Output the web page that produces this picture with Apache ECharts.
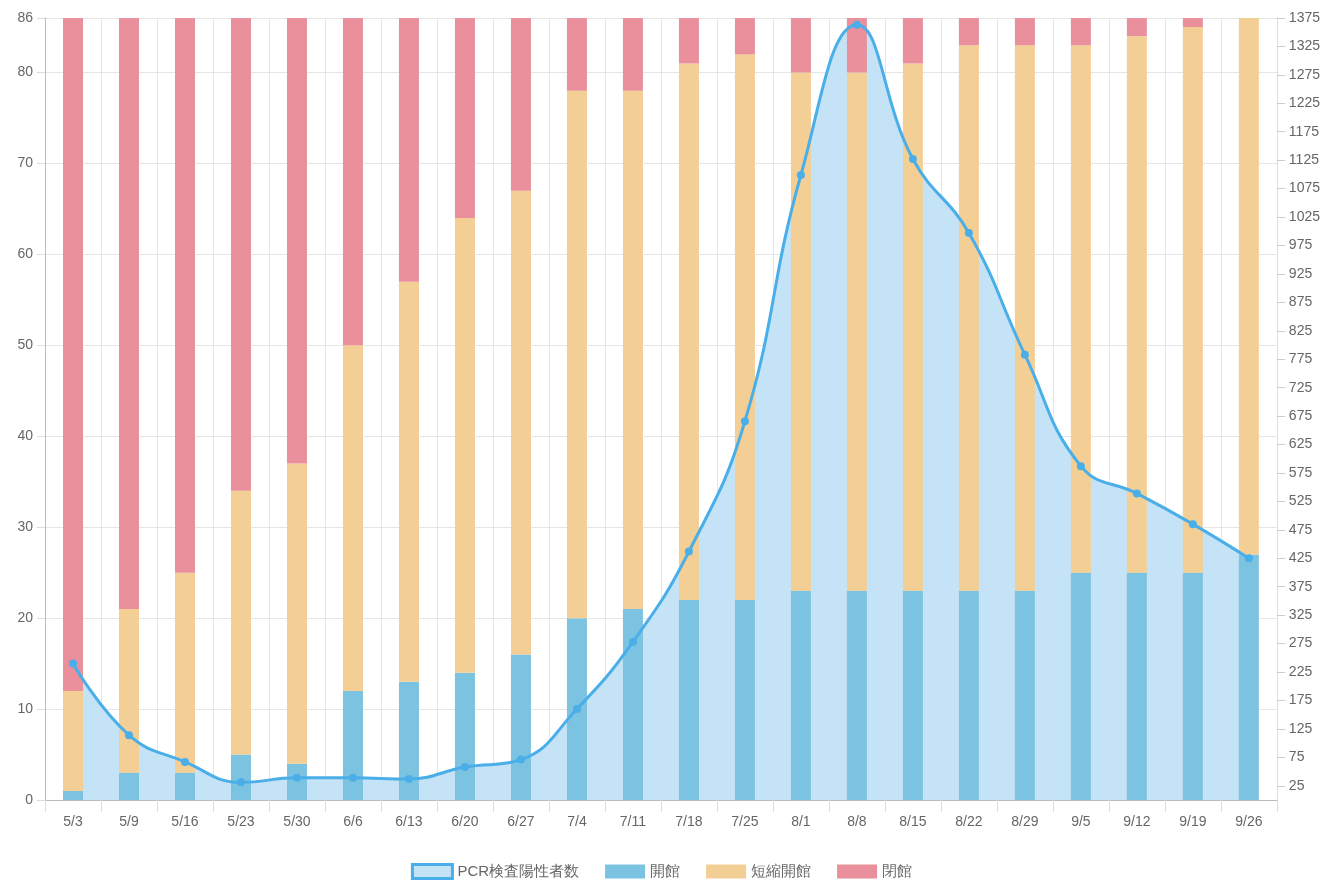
<!DOCTYPE html>
<html><head><meta charset="utf-8">
<script src="https://cdn.jsdelivr.net/npm/echarts@6/dist/echarts.min.js"></script>
<style>html,body{margin:0;padding:0;background:#fff}#c{width:1323px;height:880px}</style>
</head><body><div id="c"></div>
<script>
const categories = ['5/3','5/9','5/16','5/23','5/30','6/6','6/13','6/20','6/27','7/4','7/11','7/18','7/25','8/1','8/8','8/15','8/22','8/29','9/5','9/12','9/19','9/26'];
const openFull = [1,3,3,5,4,12,13,14,16,20,21,22,22,23,23,23,23,23,25,25,25,27];
const openShort = [11,18,22,29,33,38,44,50,51,58,57,59,60,57,57,58,60,60,58,59,60,59];
const closed = [74,65,61,52,49,36,29,22,19,8,8,5,4,6,6,5,3,3,3,2,1,0];
const pcrPositive = [240,114,67,31,39,39,37,58,71,160,278,437,666,1099,1363,1127,997,783,587,539,485,425];
const leftTicks = [0,10,20,30,40,50,60,70,80,86];
const rightTicks = [25,75,125,175,225,275,325,375,425,475,525,575,625,675,725,775,825,875,925,975,1025,1075,1125,1175,1225,1275,1325,1375];

const FONT = '"Liberation Sans", Arial, sans-serif';
const TXT = '#666';
const chart = echarts.init(document.getElementById('c'));
chart.setOption({
  animation:false,
  textStyle:{fontFamily:FONT},
  grid:{left:45,right:46,top:18,bottom:80,containLabel:false},
  legend:{
    top:858, left:'center', itemWidth:40, itemHeight:14, itemGap:26,
    textStyle:{color:TXT,fontSize:15,fontFamily:FONT},
    data:[
      {name:'PCR検査陽性者数', icon:'rect', itemStyle:{color:'#c5e3f6',borderColor:'#4aaee8',borderWidth:3}},
      {name:'開館', icon:'rect'},
      {name:'短縮開館', icon:'rect'},
      {name:'閉館', icon:'rect'}
    ]
  },
  xAxis:{
    type:'category', data:categories, boundaryGap:true,
    axisLine:{lineStyle:{color:'#bbb'}},
    axisTick:{show:true,length:12,interval:0,lineStyle:{color:'#ddd'}},
    splitLine:{show:true,interval:0,lineStyle:{color:'#e6e6e6'}},
    axisLabel:{color:TXT,fontSize:14,margin:15,interval:0}
  },
  yAxis:[
    {type:'value',min:0,max:86,interval:10,
     axisLine:{show:true,lineStyle:{color:'#bbb'}},
     axisTick:{show:true,length:8,lineStyle:{color:'#ddd'}},
     splitLine:{show:true,lineStyle:{color:'#e6e6e6'}},
     axisLabel:{color:TXT,fontSize:14,margin:12,showMaxLabel:true}},
    {type:'value',min:0,max:1375,position:'right',
     axisLine:{show:true,lineStyle:{color:'#ddd'}},
     axisTick:{show:true,length:8,customValues:rightTicks,lineStyle:{color:'#ccc'}},
     splitLine:{show:false},
     axisLabel:{color:TXT,fontSize:14,margin:12,customValues:rightTicks,formatter:function(v){return String(v);}}}
  ],
  series:[
    {name:'PCR検査陽性者数',type:'line',yAxisIndex:1,data:pcrPositive,smooth:0.45,
     symbol:'none',lineStyle:{width:0,opacity:0},
     areaStyle:{color:'#c5e3f6',opacity:1},z:1,silent:true},
    {name:'開館',type:'bar',stack:'s',data:openFull,barWidth:20,itemStyle:{color:'#7cc3e1'},z:2},
    {name:'短縮開館',type:'bar',stack:'s',data:openShort,barWidth:20,itemStyle:{color:'#f4cf95'},z:2},
    {name:'閉館',type:'bar',stack:'s',data:closed,barWidth:20,itemStyle:{color:'#e9909c'},z:2},
    {name:'PCR検査陽性者数',type:'line',yAxisIndex:1,data:pcrPositive,smooth:0.45,
     symbol:'circle',symbolSize:8,showSymbol:true,
     itemStyle:{color:'#4aaee8'},lineStyle:{width:3,color:'#4aaee8'},z:5}
  ]
});
</script></body></html>
